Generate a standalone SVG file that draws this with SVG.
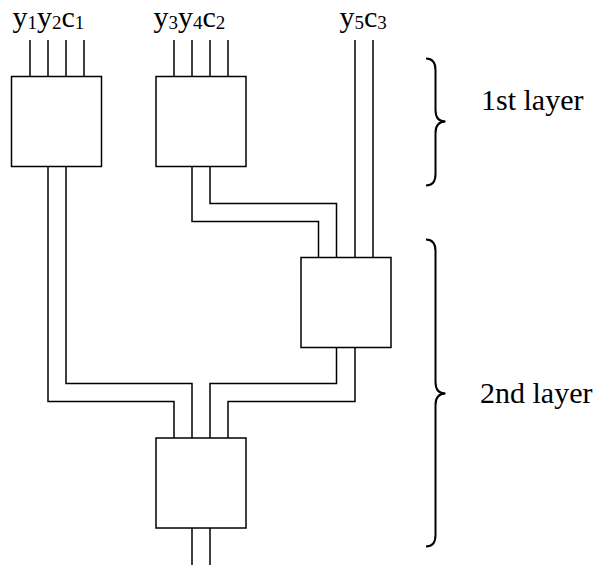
<svg xmlns="http://www.w3.org/2000/svg" width="595" height="567" viewBox="0 0 595 567">
<style>
.box{fill:#fff;stroke:#000;stroke-width:1.5}
.w{fill:none;stroke:#000;stroke-width:1.5}
.br{fill:none;stroke:#000;stroke-width:2}
text{font-family:"Liberation Serif","Times New Roman",serif;font-size:30px;fill:#000}
.s{font-size:19px}
</style>
<rect width="595" height="567" fill="#fff"/>
<g id="connectors">
<path class="w" d="M30 40V76.5M48 40V76.5M66 40V76.5M84 40V76.5"/>
<path class="w" d="M174 40V76.5M192 40V76.5M210 40V76.5M228 40V76.5"/>
<path class="w" d="M355 40V257.5M373 40V257.5"/>
<path class="w" d="M210 166.5V203.5H336.5V257.5"/>
<path class="w" d="M192 166.5V221.5H318.5V257.5"/>
<path class="w" d="M48 166.5V401.5H174V438"/>
<path class="w" d="M66 166.5V383.5H192V438"/>
<path class="w" d="M336.5 347.5V383.5H210V438"/>
<path class="w" d="M355 347.5V401.5H228V438"/>
<path class="w" d="M192 528V565M210 528V565"/>
</g>
<g id="node1"><rect class="box" x="11.5" y="76.5" width="90" height="90"/></g>
<g id="node2"><rect class="box" x="156" y="76.5" width="90" height="90"/></g>
<g id="node3"><rect class="box" x="301" y="257.5" width="90" height="90"/></g>
<g id="node4"><rect class="box" x="156" y="438" width="90" height="90"/></g>
<g id="labels">
<text x="12.5" y="27">y<tspan class="s" dy="1.5">1</tspan><tspan dy="-1.5">y</tspan><tspan class="s" dy="1.5">2</tspan><tspan dy="-1.5">c</tspan><tspan class="s" dy="1.5">1</tspan></text>
<text x="153.5" y="27">y<tspan class="s" dy="1.5">3</tspan><tspan dy="-1.5">y</tspan><tspan class="s" dy="1.5">4</tspan><tspan dy="-1.5">c</tspan><tspan class="s" dy="1.5">2</tspan></text>
<text x="339.5" y="27">y<tspan class="s" dy="1.5">5</tspan><tspan dy="-1.5">c</tspan><tspan class="s" dy="1.5">3</tspan></text>
<text x="481" y="110">1st layer</text>
<text x="480" y="403">2nd layer</text>
</g>
<g id="braces">
<path class="br" d="M426 58.5Q435.5 58.5 435.5 70V110Q435.5 121.5 445.5 121.5Q435.5 121.5 435.5 133V174Q435.5 185.5 426 185.5"/>
<path class="br" d="M426 239.5Q435.5 239.5 435.5 251V382Q435.5 393.5 445.5 393.5Q435.5 393.5 435.5 405V535Q435.5 546.5 426 546.5"/>
</g>
</svg>
